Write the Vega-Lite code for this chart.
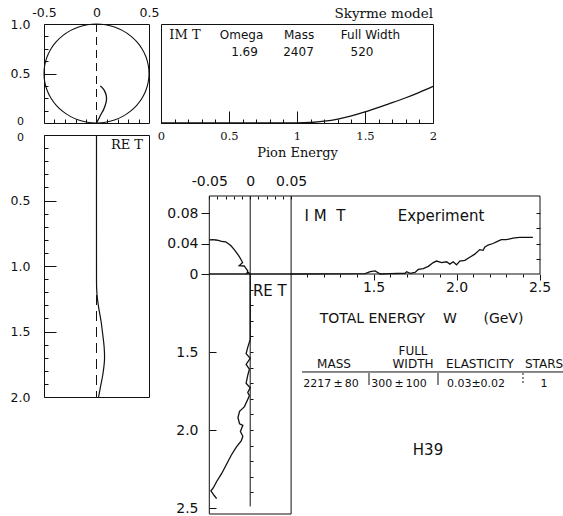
{
  "$schema": "https://vega.github.io/schema/vega-lite/v6.json",
  "background": "white",
  "padding": {"left": 9, "top": 5, "right": 0, "bottom": 0},
  "columns": 2,
  "spacing": {"row": 12, "column": 12},
  "bounds": "flush",
  "align": "each",
  "config": {
    "view": {"stroke": "#111", "strokeWidth": 1},
    "axis": {"grid": false, "domain": false, "labelFlush": false, "labelOverlap": false, "tickColor": "#111", "labelColor": "#111", "titleColor": "#111", "tickWidth": 1, "titleFontWeight": "normal"},
    "line": {"color": "#111"},
    "rule": {"color": "#111"},
    "text": {"color": "#111"}
  },
  "datasets": {
    "circle": [
      {"i": 0, "re": 0, "im": 0}, {"i": 1, "re": 0.0868, "im": 0.0076}, {"i": 2, "re": 0.171, "im": 0.0302},
      {"i": 3, "re": 0.25, "im": 0.067}, {"i": 4, "re": 0.3214, "im": 0.117}, {"i": 5, "re": 0.383, "im": 0.1786},
      {"i": 6, "re": 0.433, "im": 0.25}, {"i": 7, "re": 0.4698, "im": 0.329}, {"i": 8, "re": 0.4924, "im": 0.4132},
      {"i": 9, "re": 0.5, "im": 0.5}, {"i": 10, "re": 0.4924, "im": 0.5868}, {"i": 11, "re": 0.4698, "im": 0.671},
      {"i": 12, "re": 0.433, "im": 0.75}, {"i": 13, "re": 0.383, "im": 0.8214}, {"i": 14, "re": 0.3214, "im": 0.883},
      {"i": 15, "re": 0.25, "im": 0.933}, {"i": 16, "re": 0.171, "im": 0.9698}, {"i": 17, "re": 0.0868, "im": 0.9924},
      {"i": 18, "re": 0, "im": 1}, {"i": 19, "re": -0.0868, "im": 0.9924}, {"i": 20, "re": -0.171, "im": 0.9698},
      {"i": 21, "re": -0.25, "im": 0.933}, {"i": 22, "re": -0.3214, "im": 0.883}, {"i": 23, "re": -0.383, "im": 0.8214},
      {"i": 24, "re": -0.433, "im": 0.75}, {"i": 25, "re": -0.4698, "im": 0.671}, {"i": 26, "re": -0.4924, "im": 0.5868},
      {"i": 27, "re": -0.5, "im": 0.5}, {"i": 28, "re": -0.4924, "im": 0.4132}, {"i": 29, "re": -0.4698, "im": 0.329},
      {"i": 30, "re": -0.433, "im": 0.25}, {"i": 31, "re": -0.383, "im": 0.1786}, {"i": 32, "re": -0.3214, "im": 0.117},
      {"i": 33, "re": -0.25, "im": 0.067}, {"i": 34, "re": -0.171, "im": 0.0302}, {"i": 35, "re": -0.0868, "im": 0.0076},
      {"i": 36, "re": 0, "im": 0}
    ],
    "modelArgand": [
      {"i": 0, "re": 0, "im": 0}, {"i": 1, "re": 0.02, "im": 0.04}, {"i": 2, "re": 0.043, "im": 0.088},
      {"i": 3, "re": 0.065, "im": 0.13}, {"i": 4, "re": 0.081, "im": 0.172}, {"i": 5, "re": 0.094, "im": 0.222},
      {"i": 6, "re": 0.095, "im": 0.26}, {"i": 7, "re": 0.09, "im": 0.29}, {"i": 8, "re": 0.08, "im": 0.317},
      {"i": 9, "re": 0.068, "im": 0.34}, {"i": 10, "re": 0.052, "im": 0.36}, {"i": 11, "re": 0.036, "im": 0.374}
    ],
    "modelIm": [
      {"E": 0, "im": 0}, {"E": 1, "im": 0}, {"E": 1.1, "im": 0.005}, {"E": 1.2, "im": 0.018},
      {"E": 1.3, "im": 0.04}, {"E": 1.4, "im": 0.072}, {"E": 1.5, "im": 0.112}, {"E": 1.6, "im": 0.158},
      {"E": 1.7, "im": 0.205}, {"E": 1.8, "im": 0.255}, {"E": 1.9, "im": 0.31}, {"E": 2, "im": 0.37}
    ],
    "modelRe": [
      {"E": 0, "re": 0}, {"E": 1, "re": 0}, {"E": 1.16, "re": 0.001}, {"E": 1.22, "re": 0.005},
      {"E": 1.32, "re": 0.021}, {"E": 1.42, "re": 0.043}, {"E": 1.52, "re": 0.059}, {"E": 1.62, "re": 0.073},
      {"E": 1.72, "re": 0.076}, {"E": 1.83, "re": 0.06}, {"E": 1.93, "re": 0.036}, {"E": 2, "re": 0.02}
    ],
    "modelLabels": [
      {"t": "Omega", "E": 0.592, "im": 0.889}, {"t": "Mass", "E": 1.015, "im": 0.889},
      {"t": "Full Width", "E": 1.54, "im": 0.889}, {"t": "1.69", "E": 0.614, "im": 0.717},
      {"t": "2407", "E": 1.011, "im": 0.717}, {"t": "520", "E": 1.478, "im": 0.717}
    ],
    "expArgand": [
      {"i": 0, "re": 0, "im": 0}, {"i": 1, "re": -0.002, "im": 0.002}, {"i": 2, "re": -0.004, "im": 0.001},
      {"i": 3, "re": -0.003, "im": 0.004}, {"i": 4, "re": -0.005, "im": 0.007}, {"i": 5, "re": -0.0073, "im": 0.0105},
      {"i": 6, "re": -0.0134, "im": 0.011}, {"i": 7, "re": -0.0093, "im": 0.015}, {"i": 8, "re": -0.0113, "im": 0.019},
      {"i": 9, "re": -0.0135, "im": 0.023}, {"i": 10, "re": -0.0154, "im": 0.026}, {"i": 11, "re": -0.0195, "im": 0.032},
      {"i": 12, "re": -0.0235, "im": 0.037}, {"i": 13, "re": -0.027, "im": 0.04}, {"i": 14, "re": -0.03, "im": 0.042},
      {"i": 15, "re": -0.033, "im": 0.0425}, {"i": 16, "re": -0.036, "im": 0.043}, {"i": 17, "re": -0.039, "im": 0.044},
      {"i": 18, "re": -0.042, "im": 0.0446}, {"i": 19, "re": -0.046, "im": 0.045}, {"i": 20, "re": -0.05, "im": 0.0446}
    ],
    "expIm": [
      {"W": 1.0, "im": 0}, {"W": 1.45, "im": 0.0005}, {"W": 1.48, "im": 0.003}, {"W": 1.51, "im": 0.004},
      {"W": 1.54, "im": 0}, {"W": 1.6, "im": 0.0005}, {"W": 1.69, "im": 0.001}, {"W": 1.7, "im": 0.003},
      {"W": 1.72, "im": 0.0008}, {"W": 1.75, "im": 0.002}, {"W": 1.77, "im": 0.006}, {"W": 1.8, "im": 0.007},
      {"W": 1.83, "im": 0.01}, {"W": 1.86, "im": 0.015}, {"W": 1.88, "im": 0.017}, {"W": 1.91, "im": 0.015},
      {"W": 1.94, "im": 0.016}, {"W": 1.96, "im": 0.013}, {"W": 1.98, "im": 0.016}, {"W": 2.0, "im": 0.012},
      {"W": 2.02, "im": 0.017}, {"W": 2.05, "im": 0.018}, {"W": 2.08, "im": 0.022}, {"W": 2.11, "im": 0.026},
      {"W": 2.14, "im": 0.032}, {"W": 2.16, "im": 0.031}, {"W": 2.17, "im": 0.035}, {"W": 2.19, "im": 0.038},
      {"W": 2.22, "im": 0.04}, {"W": 2.25, "im": 0.043}, {"W": 2.27, "im": 0.045}, {"W": 2.3, "im": 0.045},
      {"W": 2.34, "im": 0.047}, {"W": 2.38, "im": 0.048}, {"W": 2.46, "im": 0.048}
    ],
    "expRe": [
      {"W": 1.0, "re": 0}, {"W": 1.3, "re": 0}, {"W": 1.42, "re": 0}, {"W": 1.47, "re": -0.003},
      {"W": 1.51, "re": -0.005}, {"W": 1.54, "re": 0}, {"W": 1.58, "re": -0.005}, {"W": 1.61, "re": -0.001},
      {"W": 1.65, "re": -0.003}, {"W": 1.7, "re": -0.005}, {"W": 1.73, "re": 0}, {"W": 1.76, "re": -0.003},
      {"W": 1.78, "re": -0.001}, {"W": 1.85, "re": -0.007}, {"W": 1.88, "re": -0.013}, {"W": 1.92, "re": -0.015},
      {"W": 1.96, "re": -0.013}, {"W": 1.97, "re": -0.009}, {"W": 2.01, "re": -0.012}, {"W": 2.04, "re": -0.009},
      {"W": 2.07, "re": -0.011}, {"W": 2.11, "re": -0.017}, {"W": 2.16, "re": -0.023}, {"W": 2.2, "re": -0.027},
      {"W": 2.24, "re": -0.031}, {"W": 2.28, "re": -0.035}, {"W": 2.33, "re": -0.041}, {"W": 2.37, "re": -0.045},
      {"W": 2.39, "re": -0.048}, {"W": 2.42, "re": -0.044}, {"W": 2.44, "re": -0.041}
    ],
    "expLabels": [
      {"t": "I\u00a0M\u00a0\u00a0T", "W": 1.2078, "im": 0.0761},
      {"t": "Experiment", "W": 1.9066, "im": 0.0761}
    ],
    "tableHead": [
      {"t": "FULL", "Wh": 1.738, "Wv": 1.4936},
      {"t": "MASS", "Wh": 1.262, "Wv": 1.5769},
      {"t": "WIDTH", "Wh": 1.738, "Wv": 1.5769},
      {"t": "ELASTICITY", "Wh": 2.1416, "Wv": 1.5769},
      {"t": "STARS", "Wh": 2.5271, "Wv": 1.5769}
    ],
    "tableValues": [
      {"t": "2217\u2009±\u200980", "Wh": 1.244, "Wv": 1.7051},
      {"t": "300\u2009±\u2009100", "Wh": 1.6536, "Wv": 1.7051},
      {"t": "0.03±0.02", "Wh": 2.1175, "Wv": 1.7051},
      {"t": "1", "Wh": 2.5271, "Wv": 1.7051}
    ],
    "tableLines": [
      {"Wh": 1.0693, "Wh2": 2.6416, "Wv": 1.628, "Wv2": 1.628},
      {"Wh": 1.4729, "Wh2": 1.4729, "Wv": 1.6346, "Wv2": 1.7115},
      {"Wh": 1.8886, "Wh2": 1.8886, "Wv": 1.6346, "Wv2": 1.7115}
    ]
  },
  "concat": [
    {
      "width": 105,
      "height": 99,
      "resolve": {"axis": {"x": "independent", "y": "independent"}},
      "layer": [
        {
          "data": {"name": "circle"},
          "mark": {"type": "line", "strokeWidth": 1.1, "interpolate": "catmull-rom"},
          "encoding": {
            "x": {"field": "re", "type": "quantitative", "title": null, "scale": {"domain": [-0.5, 0.5], "nice": false, "zero": false},
              "axis": {"orient": "top", "values": [-0.5, 0, 0.5], "ticks": false, "labelPadding": 5, "labelExpr": "'' + datum.value", "labelFont": "DejaVu Sans", "labelFontSize": 12.5}},
            "y": {"field": "im", "type": "quantitative", "title": null, "scale": {"domain": [0, 1], "nice": false, "zero": false},
              "axis": {"orient": "left", "values": [0, 0.5, 1], "tickSize": -12, "labelPadding": 36, "labelAlign": "center",
                "labelExpr": "datum.value == 1 ? '1.0' : '' + datum.value",
                "labelFont": "DejaVu Sans",
                "labelFontSize": {"condition": {"test": "datum.value == 0", "value": 11}, "value": 12.5},
                "labelOffset": {"condition": {"test": "datum.value == 0", "value": -2}, "value": 0}}},
            "order": {"field": "i", "type": "quantitative"}
          }
        },
        {
          "data": {"name": "modelArgand"},
          "mark": {"type": "line", "strokeWidth": 1.3, "interpolate": "catmull-rom"},
          "encoding": {
            "x": {"field": "re", "type": "quantitative", "title": null, "scale": {"domain": [-0.5, 0.5], "nice": false, "zero": false},
              "axis": {"orient": "bottom", "values": [-0.4, -0.3, -0.2, -0.1, 0.1, 0.2, 0.3, 0.4], "labels": false, "tickSize": -4}},
            "y": {"field": "im", "type": "quantitative", "title": null, "scale": {"domain": [0, 1], "nice": false, "zero": false},
              "axis": {"orient": "left", "values": [0.125, 0.25, 0.375, 0.625, 0.75, 0.875], "labels": false, "tickSize": -4}},
            "order": {"field": "i", "type": "quantitative"}
          }
        },
        {
          "data": {"values": [{}]},
          "mark": {"type": "rule", "strokeWidth": 1, "strokeDash": [8, 5]},
          "encoding": {
            "x": {"datum": 0, "type": "quantitative", "title": null, "scale": {"domain": [-0.5, 0.5], "nice": false, "zero": false}, "axis": null},
            "y": {"datum": 0, "type": "quantitative", "title": null, "scale": {"domain": [0, 1], "nice": false, "zero": false}, "axis": null},
            "y2": {"datum": 1}
          }
        }
      ]
    },
    {
      "width": 272,
      "height": 99,
      "resolve": {"axis": {"x": "independent"}},
      "layer": [
        {
          "data": {"name": "modelIm"},
          "mark": {"type": "line", "strokeWidth": 1.3, "interpolate": "monotone"},
          "encoding": {
            "x": {"field": "E", "type": "quantitative", "title": "Pion Energy", "scale": {"domain": [0, 2], "nice": false, "zero": false},
              "axis": {"orient": "bottom", "values": [0, 0.5, 1, 1.5, 2], "tickSize": -12,
                "labelPadding": 19, "labelExpr": "'' + datum.value",
                "labelFont": "DejaVu Serif", "labelFontSize": 11.5,
                "titleFont": "DejaVu Serif", "titleFontSize": 13, "titlePadding": 5}},
            "y": {"field": "im", "type": "quantitative", "title": null, "scale": {"domain": [0, 1], "nice": false, "zero": false}, "axis": null}
          }
        },
        {
          "data": {"name": "modelLabels"},
          "mark": {"type": "text", "font": "DejaVu Sans", "fontSize": 12},
          "encoding": {
            "x": {"field": "E", "type": "quantitative", "title": null, "scale": {"domain": [0, 2], "nice": false, "zero": false},
              "axis": {"orient": "bottom", "values": [0.1, 0.2, 0.3, 0.4, 0.6, 0.7, 0.8, 0.9, 1.1, 1.2, 1.3, 1.4, 1.6, 1.7, 1.8, 1.9], "labels": false, "tickSize": -4}},
            "y": {"field": "im", "type": "quantitative", "scale": {"domain": [0, 1], "nice": false, "zero": false}, "axis": null},
            "text": {"field": "t"}
          }
        },
        {
          "data": {"values": [{}]},
          "mark": {"type": "text", "text": "IM T", "font": "DejaVu Serif", "fontSize": 13},
          "encoding": {
            "x": {"datum": 0.176, "type": "quantitative", "scale": {"domain": [0, 2], "nice": false, "zero": false}, "axis": null},
            "y": {"datum": 0.889, "type": "quantitative", "scale": {"domain": [0, 1], "nice": false, "zero": false}, "axis": null}
          }
        },
        {
          "data": {"values": [{}]},
          "mark": {"type": "text", "text": "Skyrme model", "font": "DejaVu Serif", "fontSize": 13.5, "align": "right"},
          "encoding": {
            "x": {"datum": 2, "type": "quantitative", "scale": {"domain": [0, 2], "nice": false, "zero": false}, "axis": null},
            "y": {"datum": 1.101, "type": "quantitative", "scale": {"domain": [0, 1], "nice": false, "zero": false}, "axis": null}
          }
        }
      ]
    },
    {
      "width": 105,
      "height": 262,
      "resolve": {"axis": {"y": "independent"}},
      "layer": [
        {
          "data": {"name": "modelRe"},
          "mark": {"type": "line", "strokeWidth": 1.2, "interpolate": "catmull-rom"},
          "encoding": {
            "x": {"field": "re", "type": "quantitative", "title": null, "scale": {"domain": [-0.5, 0.5], "nice": false, "zero": false}, "axis": null},
            "y": {"field": "E", "type": "quantitative", "title": null, "scale": {"domain": [0, 2], "nice": false, "zero": false, "reverse": true},
              "axis": {"orient": "left", "values": [0, 0.5, 1, 1.5, 2], "tickSize": -12,
                "labelPadding": 36, "labelAlign": "center",
                "labelExpr": "datum.value == 0 ? '0' : format(datum.value, '.1f')",
                "labelFont": "DejaVu Sans",
                "labelFontSize": {"condition": {"test": "datum.value == 0", "value": 11}, "value": 12.5},
                "labelOffset": {"condition": {"test": "datum.value == 0", "value": 2}, "value": 0}}},
            "order": {"field": "E", "type": "quantitative"}
          }
        },
        {
          "data": {"values": [{}]},
          "mark": {"type": "rule", "strokeWidth": 1, "strokeDash": [10, 6]},
          "encoding": {
            "x": {"datum": 0, "type": "quantitative", "scale": {"domain": [-0.5, 0.5], "nice": false, "zero": false}, "axis": null},
            "y": {"datum": 0, "type": "quantitative", "title": null, "scale": {"domain": [0, 2], "nice": false, "zero": false, "reverse": true},
              "axis": {"orient": "left", "values": [0.1, 0.2, 0.3, 0.4, 0.6, 0.7, 0.8, 0.9, 1.1, 1.2, 1.3, 1.4, 1.6, 1.7, 1.8, 1.9], "labels": false, "tickSize": -4}},
            "y2": {"datum": 2}
          }
        },
        {
          "data": {"values": [{}]},
          "mark": {"type": "text", "text": "RE T", "font": "DejaVu Serif", "fontSize": 13},
          "encoding": {
            "x": {"datum": 0.29, "type": "quantitative", "scale": {"domain": [-0.5, 0.5], "nice": false, "zero": false}, "axis": null},
            "y": {"datum": 0.076, "type": "quantitative", "scale": {"domain": [0, 2], "nice": false, "zero": false, "reverse": true}, "axis": null}
          }
        }
      ]
    },
    {
      "width": 379,
      "height": 379,
      "view": {"stroke": null},
      "resolve": {"scale": {"x": "independent", "y": "independent"}},
      "layer": [
        {
          "data": {"values": [{}]},
          "mark": {"type": "rect", "fillOpacity": 0, "stroke": "#111", "strokeWidth": 1},
          "encoding": {
            "x": {"datum": -0.05, "type": "quantitative", "title": null, "scale": {"domain": [-0.10905, 0.35428], "nice": false, "zero": false},
              "axis": {"orient": "top", "offset": -61, "values": [-0.05, -0.04, -0.03, -0.02, -0.01, 0, 0.01, 0.02, 0.03, 0.04, 0.05],
                "tickSize": -3, "labelPadding": 11,
                "labelExpr": "(datum.value == -0.05 || datum.value == 0 || datum.value == 0.05) ? '' + datum.value : ''",
                "labelFont": "DejaVu Sans", "labelFontSize": 14}},
            "x2": {"datum": 0.35428},
            "y": {"datum": 0, "type": "quantitative", "title": null, "scale": {"domain": [-0.31476, 0.1823], "nice": false, "zero": false},
              "axis": {"orient": "left", "offset": -48, "values": [0, 0.04, 0.08], "tickSize": 8, "labelPadding": 3,
                "labelExpr": "'' + datum.value", "labelFont": "DejaVu Sans", "labelFontSize": 14}},
            "y2": {"datum": 0.1023}
          }
        },
        {
          "data": {"name": "expArgand"},
          "mark": {"type": "line", "strokeWidth": 1.3},
          "encoding": {
            "x": {"field": "re", "type": "quantitative", "scale": {"domain": [-0.10905, 0.35428], "nice": false, "zero": false}, "axis": null},
            "y": {"field": "im", "type": "quantitative", "scale": {"domain": [-0.31476, 0.1823], "nice": false, "zero": false}, "axis": null},
            "order": {"field": "i", "type": "quantitative"}
          }
        },
        {
          "data": {"name": "expIm"},
          "mark": {"type": "line", "strokeWidth": 1.3},
          "encoding": {
            "x": {"field": "W", "type": "quantitative", "title": "TOTAL ENERGY\u00a0\u00a0\u00a0\u00a0W\u00a0\u00a0\u00a0\u00a0\u00a0\u00a0(GeV)", "scale": {"domain": [0.21988, 2.50301], "nice": false, "zero": false},
              "axis": {"orient": "bottom", "offset": -240, "values": [1.1, 1.2, 1.3, 1.4, 1.5, 1.6, 1.7, 1.8, 1.9, 2, 2.1, 2.2, 2.3, 2.4, 2.5],
                "tickSize": {"condition": {"test": "datum.value % 0.5 == 0", "value": 6}, "value": 3},
                "labelPadding": 0, "labelExpr": "datum.value % 0.5 == 0 ? format(datum.value, '.1f') : ''",
                "labelFont": "DejaVu Sans", "labelFontSize": 14,
                "titleFont": "DejaVu Sans", "titleFontSize": 14, "titlePadding": 17, "titleX": 260}},
            "y": {"field": "im", "type": "quantitative", "scale": {"domain": [-0.31476, 0.1823], "nice": false, "zero": false}, "axis": null}
          }
        },
        {
          "data": {"values": [{}]},
          "mark": {"type": "rect", "fillOpacity": 0, "stroke": "#111", "strokeWidth": 1},
          "encoding": {
            "x": {"datum": -0.05, "type": "quantitative", "scale": {"domain": [-0.10905, 0.35428], "nice": false, "zero": false}, "axis": null},
            "x2": {"datum": 0.05},
            "y": {"datum": 1, "type": "quantitative", "title": null, "scale": {"domain": [0.10897, 2.53846], "nice": false, "zero": false, "reverse": true},
              "axis": {"orient": "left", "offset": -48, "values": [1.5, 2, 2.5], "tickSize": -7, "labelPadding": 18,
                "labelExpr": "format(datum.value, '.1f')", "labelFont": "DejaVu Sans", "labelFontSize": 14}},
            "y2": {"datum": 2.53846}
          }
        },
        {
          "data": {"values": [{}]},
          "mark": {"type": "rule", "strokeWidth": 1},
          "encoding": {
            "x": {"datum": 0, "type": "quantitative", "scale": {"domain": [-0.10905, 0.35428], "nice": false, "zero": false}, "axis": null},
            "y": {"datum": 0.5, "type": "quantitative", "title": null, "scale": {"domain": [0.10897, 2.53846], "nice": false, "zero": false, "reverse": true},
              "axis": {"orient": "left", "offset": -89, "values": [1.1, 1.2, 1.3, 1.4, 1.5, 1.6, 1.7, 1.8, 1.9, 2, 2.1, 2.2, 2.3, 2.4], "labels": false, "tickSize": -3}},
            "y2": {"datum": 2.49}
          }
        },
        {
          "data": {"values": [{}]},
          "mark": {"type": "rule", "strokeWidth": 1},
          "encoding": {
            "x": {"datum": 0.05, "type": "quantitative", "scale": {"domain": [-0.10905, 0.35428], "nice": false, "zero": false}, "axis": null},
            "y": {"datum": 0, "type": "quantitative", "title": null, "scale": {"domain": [-0.31476, 0.1823], "nice": false, "zero": false},
              "axis": {"orient": "right", "values": [0.02, 0.04, 0.06, 0.08], "labels": false, "tickSize": -4}},
            "y2": {"datum": 0.1023}
          }
        },
        {
          "data": {"name": "expRe"},
          "mark": {"type": "line", "strokeWidth": 1.3},
          "encoding": {
            "x": {"field": "re", "type": "quantitative", "scale": {"domain": [-0.10905, 0.35428], "nice": false, "zero": false}, "axis": null},
            "y": {"field": "W", "type": "quantitative", "scale": {"domain": [0.10897, 2.53846], "nice": false, "zero": false, "reverse": true}, "axis": null},
            "order": {"field": "W", "type": "quantitative"}
          }
        },
        {
          "data": {"name": "expLabels"},
          "mark": {"type": "text", "font": "DejaVu Sans", "fontSize": 15},
          "encoding": {
            "x": {"field": "W", "type": "quantitative", "scale": {"domain": [0.21988, 2.50301], "nice": false, "zero": false}, "axis": null},
            "y": {"field": "im", "type": "quantitative", "scale": {"domain": [-0.31476, 0.1823], "nice": false, "zero": false}, "axis": null},
            "text": {"field": "t"}
          }
        },
        {
          "data": {"values": [{}]},
          "mark": {"type": "text", "text": "RE T", "font": "DejaVu Sans", "fontSize": 15},
          "encoding": {
            "x": {"datum": 0.024, "type": "quantitative", "scale": {"domain": [-0.10905, 0.35428], "nice": false, "zero": false}, "axis": null},
            "y": {"datum": 1.109, "type": "quantitative", "scale": {"domain": [0.10897, 2.53846], "nice": false, "zero": false, "reverse": true}, "axis": null}
          }
        },
        {
          "data": {"name": "tableHead"},
          "mark": {"type": "text", "font": "DejaVu Sans", "fontSize": 12},
          "encoding": {
            "x": {"field": "Wh", "type": "quantitative", "scale": {"domain": [0.21988, 2.50301], "nice": false, "zero": false}, "axis": null},
            "y": {"field": "Wv", "type": "quantitative", "scale": {"domain": [0.10897, 2.53846], "nice": false, "zero": false, "reverse": true}, "axis": null},
            "text": {"field": "t"}
          }
        },
        {
          "data": {"name": "tableValues"},
          "mark": {"type": "text", "font": "DejaVu Sans", "fontSize": 11},
          "encoding": {
            "x": {"field": "Wh", "type": "quantitative", "scale": {"domain": [0.21988, 2.50301], "nice": false, "zero": false}, "axis": null},
            "y": {"field": "Wv", "type": "quantitative", "scale": {"domain": [0.10897, 2.53846], "nice": false, "zero": false, "reverse": true}, "axis": null},
            "text": {"field": "t"}
          }
        },
        {
          "data": {"name": "tableLines"},
          "mark": {"type": "rule", "strokeWidth": 1},
          "encoding": {
            "x": {"field": "Wh", "type": "quantitative", "scale": {"domain": [0.21988, 2.50301], "nice": false, "zero": false}, "axis": null},
            "x2": {"field": "Wh2"},
            "y": {"field": "Wv", "type": "quantitative", "scale": {"domain": [0.10897, 2.53846], "nice": false, "zero": false, "reverse": true}, "axis": null},
            "y2": {"field": "Wv2"}
          }
        },
        {
          "data": {"values": [{}]},
          "mark": {"type": "rule", "strokeWidth": 1, "strokeDash": [2, 2]},
          "encoding": {
            "x": {"datum": 2.4006, "type": "quantitative", "scale": {"domain": [0.21988, 2.50301], "nice": false, "zero": false}, "axis": null},
            "y": {"datum": 1.6346, "type": "quantitative", "scale": {"domain": [0.10897, 2.53846], "nice": false, "zero": false, "reverse": true}, "axis": null},
            "y2": {"datum": 1.7115}
          }
        },
        {
          "data": {"values": [{}]},
          "mark": {"type": "text", "text": "H39", "font": "DejaVu Sans", "fontSize": 15},
          "encoding": {
            "x": {"datum": 1.8283, "type": "quantitative", "scale": {"domain": [0.21988, 2.50301], "nice": false, "zero": false}, "axis": null},
            "y": {"datum": 2.1282, "type": "quantitative", "scale": {"domain": [0.10897, 2.53846], "nice": false, "zero": false, "reverse": true}, "axis": null}
          }
        }
      ]
    }
  ]
}
